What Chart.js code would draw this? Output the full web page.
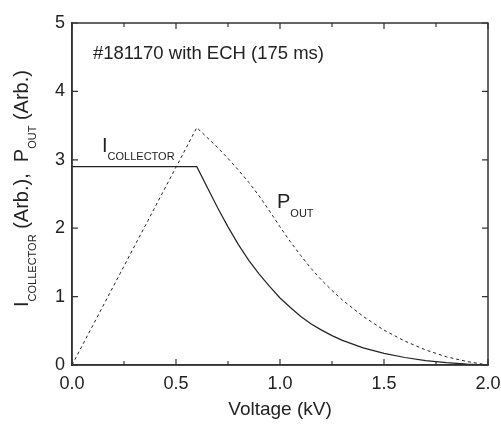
<!DOCTYPE html>
<html>
<head>
<meta charset="utf-8">
<script src="https://cdn.jsdelivr.net/npm/chart.js@4"></script>
<style>
  html, body { margin: 0; padding: 0; background: #fff; }
  #wrap { width: 501px; height: 425px; }
</style>
</head>
<body>
<div id="wrap"><canvas id="ivChart"></canvas></div>
<script>
// values
const voltage    = [0, 0.6, 0.7, 0.75, 0.8, 0.85, 0.9, 0.95, 1.0, 1.05, 1.1, 1.15, 1.2, 1.25, 1.3, 1.4, 1.5, 1.6, 1.7, 1.8, 1.9, 2.0];
const iCollector = [2.9, 2.9, 2.30, 2.02, 1.76, 1.53, 1.33, 1.15, 0.98, 0.84, 0.71, 0.60, 0.51, 0.43, 0.36, 0.25, 0.17, 0.11, 0.065, 0.035, 0.012, 0];
const pOut       = [0, 3.47, 3.18, 3.02, 2.85, 2.67, 2.47, 2.25, 2.02, 1.80, 1.60, 1.41, 1.24, 1.09, 0.95, 0.71, 0.51, 0.35, 0.22, 0.12, 0.05, 0];

const xTickStep = 0.5;
const yTickStep = 1;

const fontFamily = '"Liberation Sans", Arial, sans-serif';
const inkColor = '#222';
const axisColor = '#333';

function toPoints(xs, ys) {
    return xs.map((v, i) => ({ x: v, y: ys[i] }));
}

// draws a run of text pieces (used for subscripts)
function drawParts(ctx, parts, x, y) {
    let cx = x;
    parts.forEach(p => {
        ctx.font = `${p.size}px ${fontFamily}`;
        ctx.fillText(p.text, cx, y + (p.dy || 0));
        cx += ctx.measureText(p.text).width;
    });
}

const frameAndLabels = {
    id: 'frameAndLabels',
    afterDraw(chart) {
        const { ctx, chartArea: a, scales: { x, y } } = chart;
        ctx.save();

        // box round the plot
        ctx.strokeStyle = axisColor;
        ctx.lineWidth = 1.5;
        ctx.strokeRect(a.left, a.top, a.right - a.left, a.bottom - a.top);

        // inward tick marks, major and minor on x, major on y
        ctx.beginPath();
        const xt = x.ticks.map(t => t.value);
        xt.forEach((v, i) => {
            const px = x.getPixelForValue(v);
            ctx.moveTo(px, a.bottom); ctx.lineTo(px, a.bottom - 6);
            ctx.moveTo(px, a.top); ctx.lineTo(px, a.top + 6);
            if (i < xt.length - 1) {
                const mx = x.getPixelForValue((v + xt[i + 1]) / 2);
                ctx.moveTo(mx, a.bottom); ctx.lineTo(mx, a.bottom - 4);
                ctx.moveTo(mx, a.top); ctx.lineTo(mx, a.top + 4);
            }
        });
        y.ticks.forEach(t => {
            const py = y.getPixelForValue(t.value);
            ctx.moveTo(a.left, py); ctx.lineTo(a.left + 6, py);
            ctx.moveTo(a.right, py); ctx.lineTo(a.right - 6, py);
        });
        ctx.lineWidth = 1.2;
        ctx.stroke();

        ctx.fillStyle = inkColor;
        ctx.textAlign = 'left';
        ctx.textBaseline = 'alphabetic';

        ctx.font = `18.5px ${fontFamily}`;
        ctx.fillText('#181170 with ECH (175 ms)', 93, 59);

        drawParts(ctx, [
            { text: 'I', size: 20 },
            { text: 'COLLECTOR', size: 11, dy: 7.5 }
        ], 102, 152);

        drawParts(ctx, [
            { text: 'P', size: 20 },
            { text: 'OUT', size: 11, dy: 9 }
        ], 277, 208);

        // rotated y title
        ctx.translate(28, 307);
        ctx.rotate(-Math.PI / 2);
        drawParts(ctx, [
            { text: 'I', size: 20 },
            { text: 'COLLECTOR', size: 11, dy: 8 },
            { text: ' (Arb.),  P', size: 20 },
            { text: 'OUT', size: 11, dy: 8 },
            { text: ' (Arb.)', size: 20 }
        ], 0, 0);

        ctx.restore();
    }
};

new Chart(document.getElementById('ivChart'), {
    type: 'line',
    data: {
        datasets: [
            {
                label: 'I collector',
                data: toPoints(voltage, iCollector),
                borderColor: inkColor,
                borderWidth: 1.2,
                pointRadius: 0,
                tension: 0
            },
            {
                label: 'P out',
                data: toPoints(voltage, pOut),
                borderColor: inkColor,
                borderWidth: 1,
                borderDash: [3, 3],
                pointRadius: 0,
                tension: 0
            }
        ]
    },
    options: {
        responsive: true,
        maintainAspectRatio: false,
        animation: false,
        layout: { padding: { left: 0, right: 13, top: 23, bottom: 0 } },
        plugins: {
            legend: { display: false },
            tooltip: { enabled: false }
        },
        scales: {
            x: {
                type: 'linear',
                min: 0,
                max: 2,
                grid: { display: false, drawTicks: false },
                border: { display: true, color: axisColor, width: 1.5 },
                ticks: {
                    stepSize: xTickStep,
                    padding: 8,
                    color: inkColor,
                    font: { family: fontFamily, size: 18 },
                    maxRotation: 0,
                    callback: v => v.toFixed(1)
                },
                title: {
                    display: true,
                    text: 'Voltage (kV)',
                    color: inkColor,
                    font: { family: fontFamily, size: 19 },
                    padding: { top: 4, bottom: 4 }
                },
                afterFit(scale) {
                    scale.height = 60;
                    scale.paddingLeft = 0;
                    scale.paddingRight = 0;
                }
            },
            y: {
                min: 0,
                max: 5,
                grid: { display: false, drawTicks: false },
                border: { display: true, color: axisColor, width: 1.5 },
                ticks: {
                    stepSize: yTickStep,
                    padding: 7,
                    color: inkColor,
                    font: { family: fontFamily, size: 18 }
                },
                afterFit(scale) {
                    scale.width = 72;
                }
            }
        }
    },
    plugins: [frameAndLabels]
});
</script>
</body>
</html>
